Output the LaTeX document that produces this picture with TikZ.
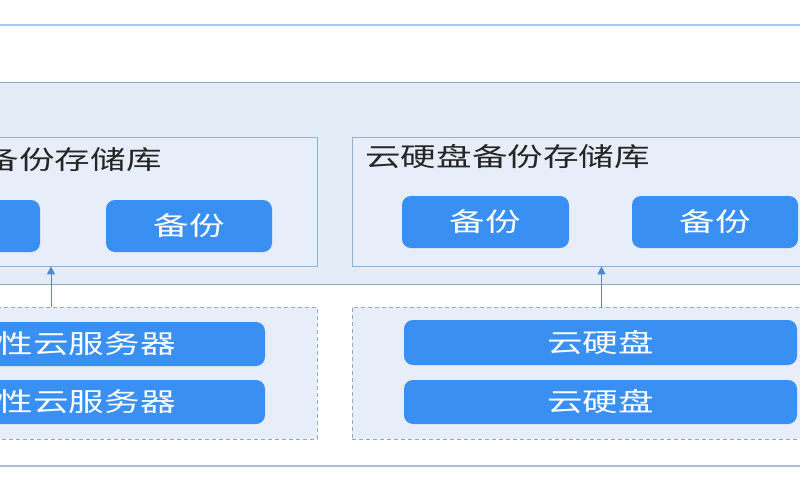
\documentclass[tikz,border=0pt]{standalone}
\usepackage{fontspec}
\newfontfamily\cjk[FakeStretch=1.37]{Noto Sans CJK SC}
\usetikzlibrary{arrows.meta}

\definecolor{bandfill}{HTML}{E3ECF7}
\definecolor{boxfill}{HTML}{E7EEF9}
\definecolor{boxline}{HTML}{8DB2D8}
\definecolor{bandline}{HTML}{8FAAC2}
\definecolor{btnblue}{HTML}{3A8FF2}
\definecolor{arrblue}{HTML}{4A8BD6}

\tikzset{
 repo/.style = {draw = boxline, fill = boxfill, line width = 0.8pt, inner sep = 0},
 group/.style = {draw = bandline, fill = boxfill, line width = 0.8pt, dash pattern = on 4pt off 3pt, inner sep = 0},
 btn/.style = {fill = btnblue, rounded corners = 9pt, inner sep = 0, text = white},
 title/.style = {inner sep = 0, text = black!85},
 arr/.style = {draw = arrblue, line width = 1pt, -{Triangle[length = 8pt, width = 8pt]}}
}

\begin{document}
\begin{tikzpicture}[x = 1pt, y = -1pt, font = \cjk\fontsize{26pt}{30pt}\selectfont]
\useasboundingbox (0, 0) rectangle (800, 500);
\clip (0, 0) rectangle (800, 500);
\fill[white] (0, 0) rectangle (800, 500);

% frame and band
\draw[color = {rgb,255:red,163;green,203;blue,242}, line width = 2pt] (-10, 25) -- (810, 25);
\draw[color = {rgb,255:red,166;green,194;blue,220}, line width = 1.4pt] (-10, 466) -- (810, 466);
\draw[fill = bandfill, draw = bandline, line width = 0.8pt] (-10, 82) rectangle (810, 284);

% backup vaults
\node[repo, minimum width = 497pt, minimum height = 129pt] (rL) at (68.5, 201.5) {};
\node[repo, minimum width = 497pt, minimum height = 129pt] (rR) at (600.5, 201.5) {};
\node[title, anchor = east] (tL) at (162, 160) {备份存储库};
\node[title, anchor = west] (tR) at (365, 157) {云硬盘备份存储库};

\node[btn, minimum width = 167pt, minimum height = 52pt] (bL1) at (-43.5, 226) {};
\node[btn, minimum width = 166pt, minimum height = 52pt] (bL2) at (189, 226) {备份};
\node[btn, minimum width = 167pt, minimum height = 52pt] (bR1) at (485.5, 222) {备份};
\node[btn, minimum width = 166pt, minimum height = 52pt] (bR2) at (715, 222) {备份};

% protected resources
\node[group, minimum width = 497pt, minimum height = 132pt] (dL) at (68.5, 373) {};
\node[group, minimum width = 497pt, minimum height = 132pt] (dR) at (600.5, 373) {};

\node[btn, minimum width = 393pt, minimum height = 44pt] (sL1) at (68.5, 344) {};
\node[btn, minimum width = 393pt, minimum height = 44pt] (sL2) at (68.5, 402) {};
\node[inner sep = 0, text = white, anchor = east] (nL1) at (176, 344) {性云服务器};
\node[inner sep = 0, text = white, anchor = east] (nL2) at (176, 402) {性云服务器};

\node[btn, minimum width = 393pt, minimum height = 45pt] (sR1) at (600.5, 342.5) {云硬盘};
\node[btn, minimum width = 393pt, minimum height = 44pt] (sR2) at (600.5, 402) {云硬盘};

% backups
\coordinate (aL) at (51, 0);
\coordinate (aR) at (601.5, 0);
\draw[arr] (dL.north -| aL) -- (rL.south -| aL);
\draw[arr] (dR.north -| aR) -- (rR.south -| aR);
\end{tikzpicture}
\end{document}
